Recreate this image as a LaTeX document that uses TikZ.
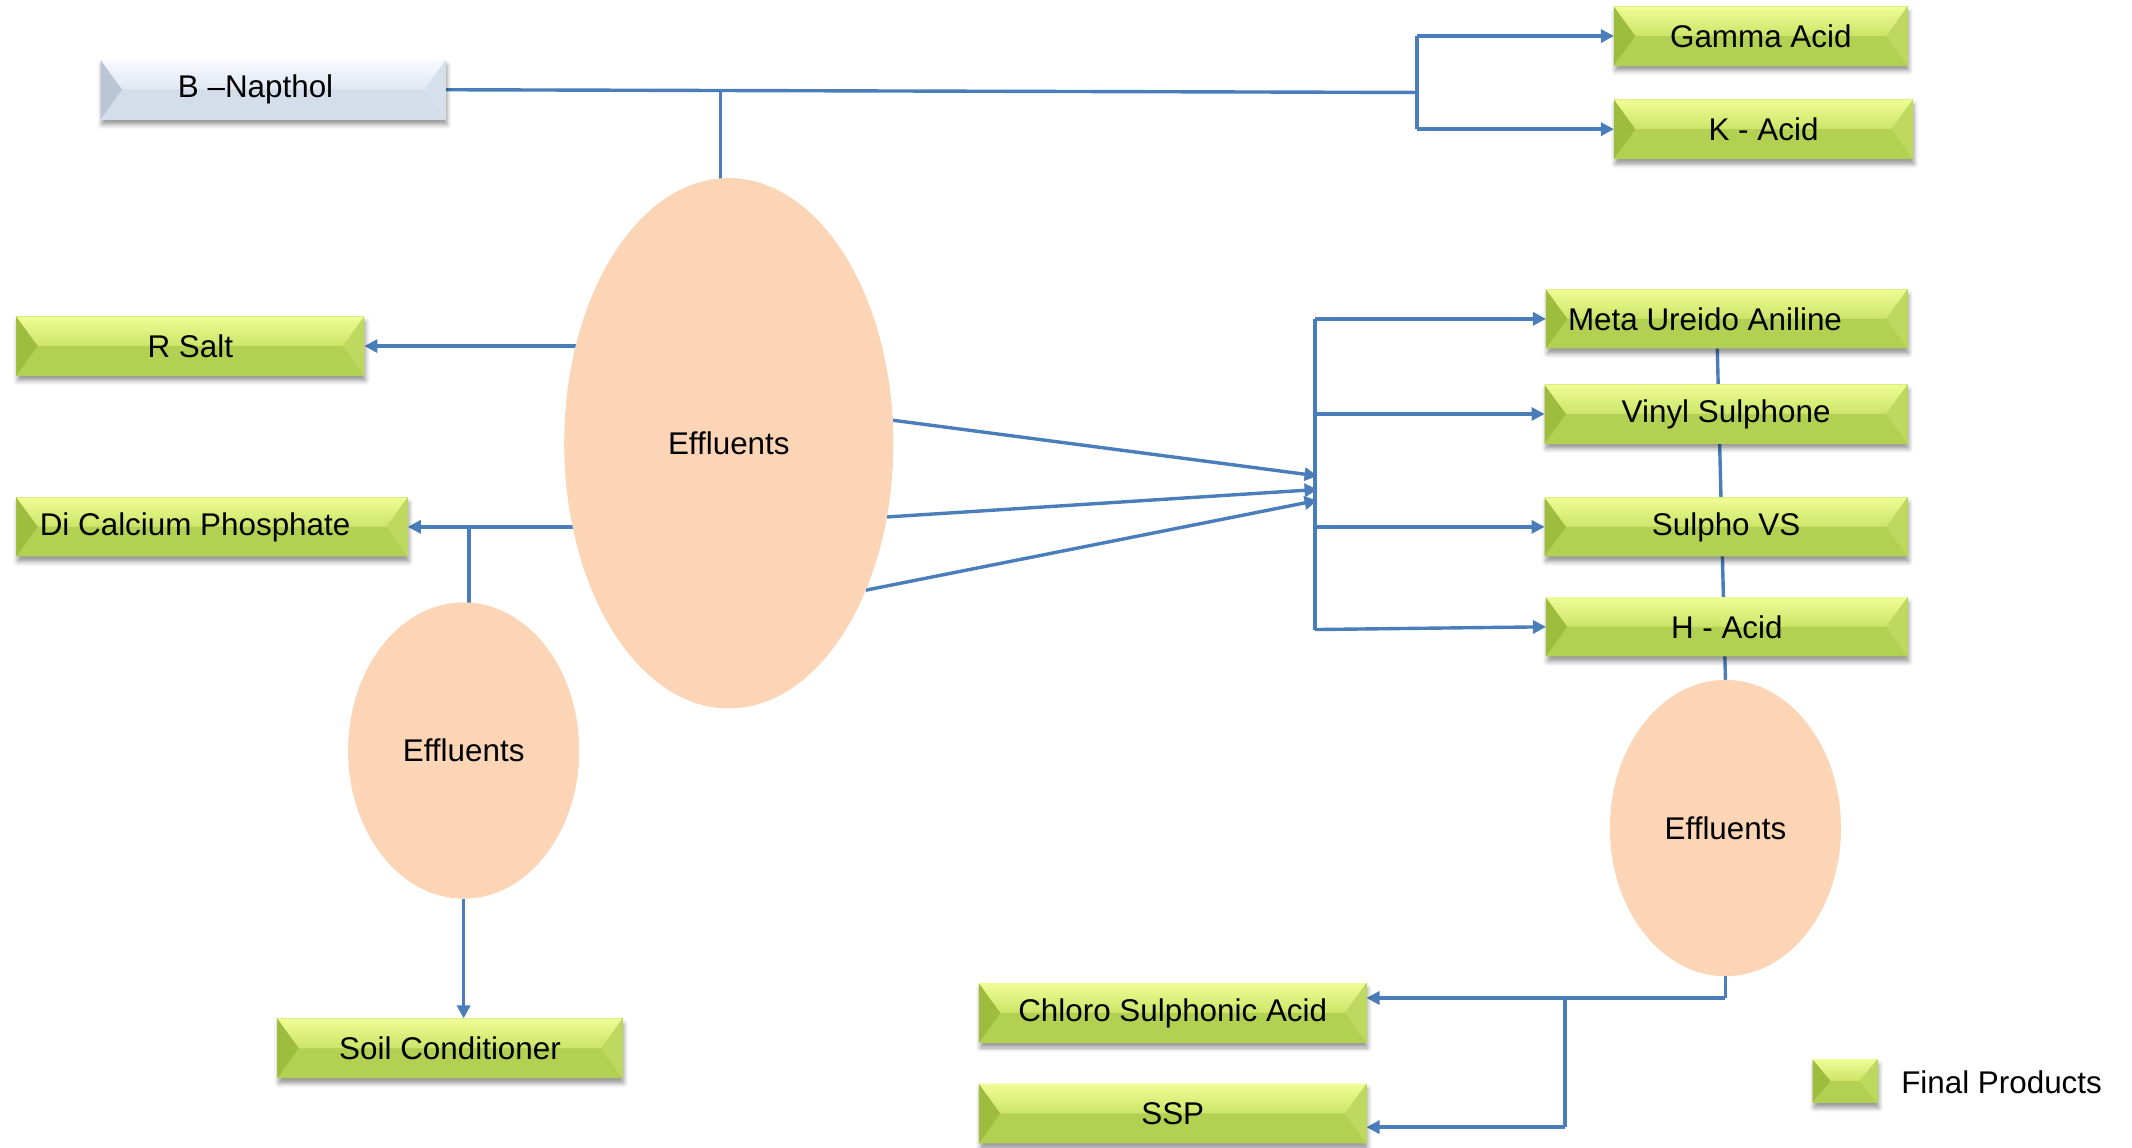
\documentclass[tikz,border=0pt]{standalone}
\usepackage{fontspec}
\setmainfont{Liberation Sans}
\usetikzlibrary{shapes.geometric,arrows.meta,shadows.blur,calc}
\definecolor{lineblue}{HTML}{4A7EBB}
\definecolor{peach}{HTML}{FBD5B5}
\definecolor{gTa}{RGB}{240,253,150}
\definecolor{gTb}{RGB}{204,228,104}
\definecolor{gB}{RGB}{178,208,82}
\definecolor{gL}{RGB}{158,188,62}
\definecolor{gR}{RGB}{190,216,96}
\definecolor{bTa}{RGB}{247,250,254}
\definecolor{bTb}{RGB}{224,232,243}
\definecolor{bB}{RGB}{212,222,235}
\definecolor{bL}{RGB}{186,197,213}
\definecolor{bR}{RGB}{214,224,237}
\pgfdeclarelayer{bg}\pgfsetlayers{bg,main}
\newcommand\bevelpic[6]{%
  \fill[#1] (path picture bounding box.north west) -- ([xshift=#6]path picture bounding box.west) -- (path picture bounding box.south west) -- cycle;
  \shade[top color=#2,bottom color=#3] (path picture bounding box.north west) -- (path picture bounding box.north east) -- ([xshift=-#6]path picture bounding box.east) -- ([xshift=#6]path picture bounding box.west) -- cycle;
  \fill[#4] (path picture bounding box.south west) -- (path picture bounding box.south east) -- ([xshift=-#6]path picture bounding box.east) -- ([xshift=#6]path picture bounding box.west) -- cycle;
  \fill[#5] (path picture bounding box.north east) -- ([xshift=-#6]path picture bounding box.east) -- (path picture bounding box.south east) -- cycle;
}
\tikzset{
  lbl/.style={font=\fontsize{15.7}{18}\selectfont, text=black},
  boxbase/.style={rectangle, inner sep=0pt, outer sep=0pt, minimum height=29.6pt, lbl,
    blur shadow={shadow xshift=0.6pt, shadow yshift=-2.6pt, shadow blur radius=2.2pt, shadow opacity=40}},
  greenbox/.style={boxbase, fill=gB, path picture={\bevelpic{gL}{gTa}{gTb}{gB}{gR}{10.8pt}}},
  legendbox/.style={boxbase, fill=gB, path picture={\bevelpic{gL}{gTa}{gTb}{gB}{gR}{9.2pt}}},
  bluebox/.style={boxbase, fill=bB, path picture={\bevelpic{bL}{bTa}{bTb}{bB}{bR}{10.8pt}}},
  effl/.style={ellipse, fill=peach, inner sep=0pt, outer sep=0pt, lbl},
  conn/.style={draw=lineblue, line width=1.7pt},
  arr/.style={conn, -{Triangle[length=6.5pt,width=6.5pt]}},
}
\begin{document}
\begin{tikzpicture}[x=0.68pt,y=-0.68pt]
\useasboundingbox (0,0) rectangle (1568,844);
% boxes
\node[bluebox, minimum width=172.7pt, minimum height=29.9pt] (bn) at (201,66) {B –Napthol\kern17.7pt};
\node[greenbox, minimum width=146.9pt] (gamma) at (1295,26.5) {Gamma Acid};
\node[greenbox, minimum width=149.6pt, minimum height=29.9pt] (kacid) at (1297,95) {K - Acid};
\node[greenbox, minimum width=174.1pt] (rsalt) at (140,254.5) {R Salt};
\node[greenbox, minimum width=195.8pt] (dcp) at (156,387.5) {Di Calcium Phosphate\kern17pt};
\node[greenbox, minimum width=180.9pt] (meta) at (1270,234.5) {Meta Ureido Aniline\kern21.8pt};
\node[greenbox, minimum width=181.6pt] (vinyl) at (1269.5,304.5) {Vinyl Sulphone};
\node[greenbox, minimum width=181.6pt] (sulpho) at (1269.5,387.5) {Sulpho VS};
\node[greenbox, minimum width=180.9pt] (hacid) at (1270,461) {H - Acid};
\node[greenbox, minimum width=172.7pt, minimum height=29.9pt] (soil) at (331,771) {Soil Conditioner};
\node[greenbox, minimum width=193.8pt, minimum height=29.9pt] (csa) at (862.5,745) {Chloro Sulphonic Acid};
\node[greenbox, minimum width=193.8pt, minimum height=29.9pt] (ssp) at (862.5,819) {SSP};
% ellipses
\node[effl, minimum width=164.6pt, minimum height=265.2pt] (e1) at (536,326) {Effluents};
\node[effl, minimum width=115.6pt, minimum height=148.2pt] (e2) at (341,552) {Effluents};
\node[effl, minimum width=115.6pt, minimum height=148.2pt] (e3) at (1269,609) {Effluents};
% legend
\node[legendbox, minimum width=32.6pt, minimum height=21.8pt] (leg) at (1357,795) {};
\node[lbl, anchor=west, inner sep=0pt] (legt) at (1398,796) {Final Products};
% connectors
\begin{pgfonlayer}{bg}
\coordinate (j1) at (1042,68);
\coordinate (j0) at (530,66.5);
\draw[conn] (bn.east) -- (j1);
\draw[conn] (j0) -- (j0 |- e1.center);
\draw[conn] (j1 |- gamma.west) -- (j1 |- kacid.west);
\draw[arr] (j1 |- gamma.west) -- (gamma.west);
\draw[arr] (j1 |- kacid.west) -- (kacid.west);
\draw[arr] (e1.center |- rsalt.east) -- (rsalt.east);
\draw[arr] (e1.center |- dcp.east) -- (dcp.east);
\path (dcp.east) ++(45,0) coordinate (j2);
\draw[conn] (j2) -- (j2 |- e2.center);
\draw[arr] (e2.south) -- (e2.south |- soil.north);
\coordinate (c1) at (969,350);
\coordinate (c2) at (969,360);
\coordinate (c3) at (969,368);
\draw[arr] (e1.8) -- (c1);
\draw[arr] (e1.-25) -- (c2);
\draw[arr] (e1.-47) -- (c3);
\coordinate (vx) at (967,0);
\draw[conn] (vx |- meta.west) -- ($(vx |- hacid.west)+(0,2)$);
\draw[arr] (vx |- meta.west) -- (meta.west);
\draw[arr] (vx |- vinyl.west) -- (vinyl.west);
\draw[arr] (vx |- sulpho.west) -- (sulpho.west);
\draw[arr] ($(vx |- hacid.west)+(0,2)$) -- (hacid.west);
\draw[conn] ($(meta.south)+(-7,0)$) -- (e3.north);
\draw[conn] (e3.south) -- ++(0,16) coordinate (k1);
\draw[arr] (k1) -- (k1 -| csa.east);
\path (k1) ++(-118,0) coordinate (k2);
\draw[conn] (k2) -- ++(0,95) coordinate (k3);
\draw[arr] (k3) -- (k3 -| ssp.east);
\end{pgfonlayer}
\end{tikzpicture}
\end{document}
